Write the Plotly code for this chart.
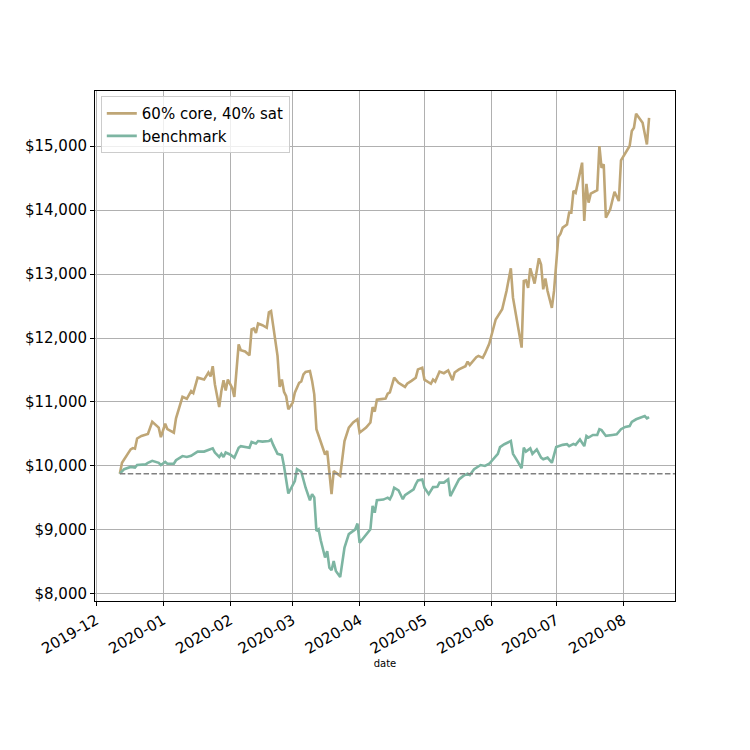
import plotly.graph_objects as go

# portfolio: 60% core, 40% sat
core_dates = [
    "2019-12-12", "2019-12-13", "2019-12-17", "2019-12-18", "2019-12-19", "2019-12-20",
    "2019-12-22", "2019-12-24", "2019-12-25", "2019-12-27", "2019-12-30", "2019-12-31",
    "2020-01-02", "2020-01-03", "2020-01-06", "2020-01-07", "2020-01-10", "2020-01-12",
    "2020-01-14", "2020-01-15", "2020-01-17", "2020-01-20", "2020-01-22", "2020-01-23",
    "2020-01-24", "2020-01-25", "2020-01-27", "2020-01-28", "2020-01-29", "2020-01-30",
    "2020-01-31", "2020-02-02", "2020-02-03", "2020-02-05", "2020-02-06", "2020-02-08",
    "2020-02-10", "2020-02-11", "2020-02-12", "2020-02-13", "2020-02-14", "2020-02-16",
    "2020-02-18", "2020-02-19", "2020-02-20", "2020-02-21", "2020-02-23", "2020-02-24",
    "2020-02-25", "2020-02-26", "2020-02-27", "2020-02-28", "2020-03-01", "2020-03-02",
    "2020-03-04", "2020-03-05", "2020-03-06", "2020-03-07", "2020-03-09", "2020-03-10",
    "2020-03-11", "2020-03-12", "2020-03-14", "2020-03-16", "2020-03-17", "2020-03-18",
    "2020-03-19", "2020-03-20", "2020-03-22", "2020-03-23", "2020-03-25", "2020-03-27",
    "2020-03-29", "2020-03-31", "2020-04-01", "2020-04-04", "2020-04-06", "2020-04-07",
    "2020-04-08", "2020-04-09", "2020-04-11", "2020-04-13", "2020-04-14", "2020-04-15",
    "2020-04-17", "2020-04-19", "2020-04-22", "2020-04-23", "2020-04-25", "2020-04-27",
    "2020-04-28", "2020-04-30", "2020-05-01", "2020-05-04", "2020-05-05", "2020-05-06",
    "2020-05-08", "2020-05-10", "2020-05-12", "2020-05-14", "2020-05-15", "2020-05-17",
    "2020-05-20", "2020-05-21", "2020-05-22", "2020-05-25", "2020-05-26", "2020-05-28",
    "2020-05-29", "2020-05-31", "2020-06-03", "2020-06-04", "2020-06-06", "2020-06-08",
    "2020-06-10", "2020-06-11", "2020-06-13", "2020-06-15", "2020-06-16", "2020-06-17",
    "2020-06-18", "2020-06-19", "2020-06-20", "2020-06-21", "2020-06-23", "2020-06-24",
    "2020-06-25", "2020-06-26", "2020-06-27", "2020-06-29", "2020-06-30", "2020-07-02",
    "2020-07-03", "2020-07-04", "2020-07-06", "2020-07-07", "2020-07-08", "2020-07-09",
    "2020-07-10", "2020-07-13", "2020-07-14", "2020-07-15", "2020-07-16", "2020-07-17",
    "2020-07-20", "2020-07-21", "2020-07-22", "2020-07-23", "2020-07-24", "2020-07-26",
    "2020-07-28", "2020-07-30", "2020-07-31", "2020-08-02", "2020-08-04", "2020-08-05",
    "2020-08-06", "2020-08-07", "2020-08-10", "2020-08-12", "2020-08-13",
]
core_values = [
    9880, 10050, 10260, 10280, 10270, 10430,
    10470, 10485, 10500, 10690, 10600, 10450,
    10660, 10575, 10520, 10745, 11080, 11050,
    11170, 11140, 11380, 11350, 11460, 11400,
    11560, 11275, 10920, 11170, 11340, 11180,
    11350, 11220, 11080, 11900, 11810, 11790,
    11730, 12135, 12150, 12080, 12225, 12200,
    12160, 12400, 12420, 12190, 11720, 11235,
    11350, 11160, 11090, 10885, 10990, 11145,
    11300, 11320, 11430, 11470, 11485, 11330,
    11120, 10575, 10365, 10180, 10235, 9870,
    9560, 9920, 9860, 9845, 10390, 10600,
    10680, 10730, 10520, 10600, 10680, 10920,
    10850, 11035, 11045, 11055, 11130, 11150,
    11380, 11300, 11235, 11285, 11330, 11380,
    11510, 11535, 11350, 11285, 11350, 11320,
    11475, 11450, 11495, 11340, 11460, 11510,
    11560, 11630, 11580, 11700, 11720, 11690,
    11755, 11910, 12290, 12345, 12450, 12735,
    13090, 12630, 12265, 11850, 12890, 12900,
    12785, 13090, 12970, 12850, 13245, 13150,
    12760, 12930, 12735, 12470, 12735, 13580,
    13630, 13725, 13775, 13960, 13960, 14300,
    14270, 14740, 13830, 14410, 14115, 14255,
    14310, 15000, 14660, 14715, 13880, 14010,
    14285, 14140, 14775, 14895, 15000, 15235,
    15285, 15505, 15365, 15025, 15440,
]

# benchmark
bench_dates = [
    "2019-12-12", "2019-12-14", "2019-12-17", "2019-12-19", "2019-12-20", "2019-12-24",
    "2019-12-25", "2019-12-27", "2019-12-30", "2019-12-31", "2020-01-02", "2020-01-03",
    "2020-01-06", "2020-01-07", "2020-01-10", "2020-01-12", "2020-01-14", "2020-01-17",
    "2020-01-20", "2020-01-21", "2020-01-22", "2020-01-24", "2020-01-25", "2020-01-27",
    "2020-01-28", "2020-01-29", "2020-01-30", "2020-02-01", "2020-02-03", "2020-02-05",
    "2020-02-06", "2020-02-10", "2020-02-11", "2020-02-13", "2020-02-14", "2020-02-16",
    "2020-02-19", "2020-02-20", "2020-02-21", "2020-02-23", "2020-02-25", "2020-02-26",
    "2020-02-28", "2020-03-01", "2020-03-02", "2020-03-03", "2020-03-05", "2020-03-07",
    "2020-03-09", "2020-03-10", "2020-03-11", "2020-03-12", "2020-03-13", "2020-03-14",
    "2020-03-16", "2020-03-17", "2020-03-18", "2020-03-19", "2020-03-20", "2020-03-21",
    "2020-03-23", "2020-03-25", "2020-03-27", "2020-03-30", "2020-03-31", "2020-04-01",
    "2020-04-04", "2020-04-06", "2020-04-07", "2020-04-08", "2020-04-09", "2020-04-12",
    "2020-04-14", "2020-04-15", "2020-04-16", "2020-04-17", "2020-04-19", "2020-04-21",
    "2020-04-22", "2020-04-24", "2020-04-26", "2020-04-27", "2020-04-28", "2020-04-30",
    "2020-05-01", "2020-05-03", "2020-05-04", "2020-05-05", "2020-05-07", "2020-05-08",
    "2020-05-10", "2020-05-12", "2020-05-13", "2020-05-15", "2020-05-17", "2020-05-19",
    "2020-05-21", "2020-05-22", "2020-05-24", "2020-05-27", "2020-05-29", "2020-05-31",
    "2020-06-03", "2020-06-04", "2020-06-05", "2020-06-07", "2020-06-10", "2020-06-11",
    "2020-06-13", "2020-06-15", "2020-06-16", "2020-06-17", "2020-06-19", "2020-06-20",
    "2020-06-22", "2020-06-24", "2020-06-25", "2020-06-27", "2020-06-29", "2020-07-01",
    "2020-07-04", "2020-07-06", "2020-07-07", "2020-07-09", "2020-07-10", "2020-07-12",
    "2020-07-14", "2020-07-15", "2020-07-16", "2020-07-18", "2020-07-20", "2020-07-21",
    "2020-07-22", "2020-07-23", "2020-07-24", "2020-07-27", "2020-07-29", "2020-07-31",
    "2020-08-02", "2020-08-04", "2020-08-05", "2020-08-07", "2020-08-10", "2020-08-11",
    "2020-08-12", "2020-08-13",
]
bench_values = [
    9880, 9950, 9985, 9975, 10015, 10025,
    10050, 10080, 10050, 10015, 10065, 10035,
    10035, 10090, 10155, 10140, 10160, 10225,
    10225, 10235, 10245, 10275, 10210, 10140,
    10190, 10140, 10210, 10180, 10130, 10285,
    10310, 10285, 10375, 10350, 10390, 10380,
    10390, 10415, 10330, 10190, 10170, 10000,
    9570, 9690, 9765, 9950, 9910, 9660,
    9465, 9560, 9510, 8985, 9010, 8840,
    8570, 8670, 8410, 8370, 8515, 8360,
    8265, 8725, 8935, 9010, 9100, 8800,
    8930, 9010, 9375, 9270, 9465, 9475,
    9505, 9480, 9545, 9660, 9620, 9480,
    9545, 9585, 9635, 9715, 9775, 9790,
    9660, 9560, 9610, 9670, 9675, 9740,
    9740, 9790, 9530, 9660, 9790, 9845,
    9880, 9860, 9950, 10015, 10000, 10035,
    10155, 10190, 10295, 10340, 10390, 10190,
    10080, 9965, 10285, 10225, 10275, 10190,
    10260, 10130, 10105, 10130, 10050, 10295,
    10330, 10340, 10310, 10345, 10330, 10415,
    10310, 10470, 10445, 10485, 10485, 10575,
    10560, 10505, 10470, 10485, 10495, 10575,
    10610, 10625, 10690, 10730, 10765, 10780,
    10745, 10765,
]

start_value = 9880
x_end = "2020-08-25"

fig = go.Figure()

# starting capital reference line (from first date to the right edge)
fig.add_shape(type="line", xref="x", yref="y",
              x0=core_dates[0], x1=x_end, y0=start_value, y1=start_value,
              line=dict(color="#808080", width=1.5, dash="5.5px,2.4px"))

fig.add_trace(go.Scatter(
    x=core_dates, y=core_values, mode="lines",
    name="60% core, 40% sat",
    line=dict(color="#bfa676", width=2.6)))

fig.add_trace(go.Scatter(
    x=bench_dates, y=bench_values, mode="lines",
    name="benchmark",
    line=dict(color="#7db5a2", width=2.6)))

# page adds ~8px offset, so margins are shifted to keep the plot box in place
fig.update_layout(
    width=750, height=750,
    margin=dict(l=87, r=83, t=83, b=157),
    paper_bgcolor="white", plot_bgcolor="white",
    font=dict(family="DejaVu Sans", color="black", size=15),
    showlegend=True,
    legend=dict(x=0.01, y=0.99, xanchor="left", yanchor="top",
                bgcolor="rgba(255,255,255,0.8)", bordercolor="#cccccc", borderwidth=1,
                font=dict(size=15)),
)

fig.update_xaxes(
    range=["2019-11-30 12:00", x_end],
    dtick="M1", tick0="2019-12-01", tickformat="%Y-%m", tickangle=-30,
    showgrid=True, gridcolor="#b0b0b0", gridwidth=1,
    showline=True, linecolor="black", linewidth=1, mirror=True,
    ticks="outside", ticklen=4, tickcolor="black",
    zeroline=False,
    title=dict(text="date", font=dict(size=10), standoff=0),
)
fig.update_yaxes(
    range=[7890, 15860],
    dtick=1000, tickprefix="$", tickformat=",d",
    showgrid=True, gridcolor="#b0b0b0", gridwidth=1,
    showline=True, linecolor="black", linewidth=1, mirror=True,
    ticks="outside", ticklen=4, tickcolor="black",
    zeroline=False,
)

fig.write_html("out.html")
